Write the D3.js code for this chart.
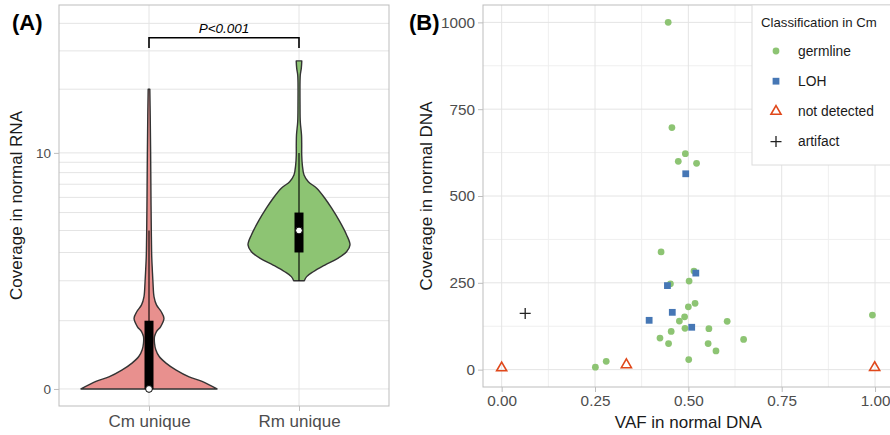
<!DOCTYPE html>
<html>
<head>
<meta charset="utf-8">
<script src="https://cdn.jsdelivr.net/npm/d3@7"></script>
<style>
  body { margin: 0; background: #fff; }
  svg { font-family: "Liberation Sans", Arial, Helvetica, sans-serif; display: block; }
</style>
</head>
<body>
<div id="chart"></div>
<script>

// ---------- Panel A: violin outlines ----------
var groups = ["Cm unique", "Rm unique"];

// coverage value along the violin and relative half-width (density)
var cmCoverage = [0, 0.08, 0.13, 0.21, 0.30, 0.39, 0.49, 0.59, 0.70, 0.79, 0.88, 1.05, 1.19, 1.35, 1.55, 1.93, 2.35, 2.84, 3.5, 4, 6, 10, 15, 20];
var cmDensity  = [1.00, 0.78, 0.59, 0.40, 0.25, 0.15, 0.10, 0.081, 0.081, 0.11, 0.17, 0.22, 0.18, 0.11, 0.074, 0.059, 0.049, 0.040, 0.036, 0.034, 0.029, 0.024, 0.018, 0.012];

var rmCoverage = [2.0, 2.13, 2.29, 2.52, 2.77, 3.03, 3.32, 3.78, 4.47, 5.27, 5.94, 6.68, 7.21, 7.79, 8.73, 9.77, 10.9, 12.2, 14.1, 16.9, 21.7, 23.3, 25.0, 27.0];
var rmDensity  = [0.078, 0.113, 0.21, 0.38, 0.57, 0.70, 0.75, 0.70, 0.60, 0.48, 0.38, 0.26, 0.137, 0.074, 0.049, 0.040, 0.040, 0.037, 0.019, 0.015, 0.015, 0.019, 0.034, 0.041];

// boxplot stats: lower whisker, q1, median, q3, upper whisker
var cmBox = [0, 0, 0, 1, 4];
var rmBox = [2, 3, 4, 5, 10];

var rnaTicks = [0, 10];
var rnaMinorTicks = [1, 2, 3, 4, 5, 6, 7, 8, 9, 20, 30, 40];
var pLabel = "P<0.001";

// ---------- Panel B: scatter points ----------
var germlineVaf = [0.446, 0.456, 0.492, 0.473, 0.522, 0.427, 0.515, 0.452, 0.502, 0.518, 0.500, 0.490, 0.476, 0.604, 0.454, 0.491, 0.555, 0.424, 0.447, 0.553, 0.648, 0.574, 0.501, 0.280, 0.251, 0.993];
var germlineCov = [1000, 697, 622, 600, 594, 339, 284, 247, 255, 191, 181, 152, 140, 139, 110, 119, 118, 91, 75, 75, 87, 54, 29, 24, 7, 157];

var lohVaf = [0.493, 0.520, 0.444, 0.457, 0.395, 0.509];
var lohCov = [564, 278, 242, 165, 142, 122];

var notDetectedVaf = [0.0, 0.334, 0.999];
var notDetectedCov = [5, 14, 6];

var artifactVaf = [0.063];
var artifactCov = [162];

var classes = ["germline", "LOH", "not detected", "artifact"];
var vafTicks = [0, 0.25, 0.5, 0.75, 1];
var vafMinorTicks = [0.125, 0.375, 0.625, 0.875];
var dnaTicks = [0, 250, 500, 750, 1000];
var dnaMinorTicks = [125, 375, 625, 875];

// ---------- drawing ----------
var svgWidth = 890;
var svgHeight = 435;

var gridMajor = "#e4e4e4";
var gridMinor = "#efefef";
var borderCol = "#bdbdbd";
var tickText = "#4d4d4d";
var titleText = "#1a1a1a";

var svg = d3.select("#chart")
  .append("svg")
  .attr("width", svgWidth)
  .attr("height", svgHeight);

// ===== Panel A =====
var pA = { left: 59, right: 389, top: 5, bottom: 406 };

var xA = d3.scalePoint()
  .domain(groups)
  .range([pA.left, pA.right])
  .padding(0.6);

// log10(x + 1) style axis
var yA = d3.scaleSymlog()
  .constant(1)
  .domain([-0.189, 48.4])
  .range([pA.bottom, pA.top]);

var widthA = d3.scaleLinear().domain([0, 1]).range([0, 68]);

var gA = svg.append("g");

// grid
gA.selectAll(".hgrid")
  .data(rnaMinorTicks.concat(rnaTicks))
  .enter()
  .append("line")
  .attr("x1", pA.left).attr("x2", pA.right)
  .attr("y1", d => yA(d)).attr("y2", d => yA(d))
  .attr("stroke", gridMajor)
  .attr("stroke-width", 1);

gA.selectAll(".vgrid")
  .data(groups)
  .enter()
  .append("line")
  .attr("x1", d => xA(d)).attr("x2", d => xA(d))
  .attr("y1", pA.top).attr("y2", pA.bottom)
  .attr("stroke", gridMajor)
  .attr("stroke-width", 1);

var violinArea = d3.area()
  .curve(d3.curveCatmullRom.alpha(0.5))
  .y(d => yA(d.v))
  .x0(d => d.cx - widthA(d.d))
  .x1(d => d.cx + widthA(d.d));

var violins = [
  { name: groups[0], cov: cmCoverage, dens: cmDensity, box: cmBox, fill: "#e8908e" },
  { name: groups[1], cov: rmCoverage, dens: rmDensity, box: rmBox, fill: "#8dc473" }
];

violins.forEach(function(vi) {
  var cx = xA(vi.name);
  var pts = vi.cov.map((v, i) => ({ v: v, d: vi.dens[i], cx: cx }));

  gA.append("path")
    .datum(pts)
    .attr("d", violinArea)
    .attr("fill", vi.fill)
    .attr("stroke", "#333333")
    .attr("stroke-width", 1.4)
    .attr("stroke-linejoin", "round");

  // whisker
  gA.append("line")
    .attr("x1", cx).attr("x2", cx)
    .attr("y1", yA(vi.box[0])).attr("y2", yA(vi.box[4]))
    .attr("stroke", "#000")
    .attr("stroke-width", 1.1);

  // box
  gA.append("rect")
    .attr("x", cx - 4.5)
    .attr("width", 9)
    .attr("y", yA(vi.box[3]))
    .attr("height", yA(vi.box[1]) - yA(vi.box[3]))
    .attr("fill", "#000");

  // median
  gA.append("circle")
    .attr("cx", cx)
    .attr("cy", yA(vi.box[2]))
    .attr("r", 3.4)
    .attr("fill", "#fff")
    .attr("stroke", "#000")
    .attr("stroke-width", 1);
});

// border
gA.append("rect")
  .attr("x", pA.left).attr("y", pA.top)
  .attr("width", pA.right - pA.left).attr("height", pA.bottom - pA.top)
  .attr("fill", "none")
  .attr("stroke", borderCol)
  .attr("stroke-width", 1);

// axes A
var yAxisA = d3.axisLeft(yA).tickValues(rnaTicks).tickSize(5).tickPadding(3).tickFormat(d3.format("d"));
var axA = gA.append("g")
  .attr("transform", `translate(${pA.left}, 0)`)
  .call(yAxisA);
axA.select(".domain").remove();
axA.selectAll(".tick line").attr("stroke", borderCol);
axA.selectAll(".tick text").attr("fill", tickText).attr("font-size", "13.5px");

var xAxisA = d3.axisBottom(xA).tickSize(5).tickPadding(4);
var axAx = gA.append("g")
  .attr("transform", `translate(0, ${pA.bottom})`)
  .call(xAxisA);
axAx.select(".domain").remove();
axAx.selectAll(".tick line").attr("stroke", borderCol);
axAx.selectAll(".tick text").attr("fill", tickText).attr("font-size", "17px");

// significance bracket
var bracketTop = 34.4;
var bracketFoot = 30.9;
gA.append("path")
  .attr("d", `M${xA(groups[0])},${yA(bracketFoot)}V${yA(bracketTop)}H${xA(groups[1])}V${yA(bracketFoot)}`)
  .attr("fill", "none")
  .attr("stroke", "#000")
  .attr("stroke-width", 1.6);

gA.append("text")
  .attr("x", (xA(groups[0]) + xA(groups[1])) / 2)
  .attr("y", yA(bracketTop) - 5)
  .attr("text-anchor", "middle")
  .attr("font-size", "13.5px")
  .attr("font-style", "italic")
  .attr("fill", "#000")
  .text(pLabel);

// titles A
svg.append("text")
  .attr("transform", `translate(22, ${(pA.top + pA.bottom) / 2}) rotate(-90)`)
  .attr("text-anchor", "middle")
  .attr("font-size", "17px")
  .attr("fill", titleText)
  .text("Coverage in normal RNA");

svg.append("text")
  .attr("x", 12).attr("y", 30)
  .attr("font-size", "22px")
  .attr("font-weight", "bold")
  .attr("fill", "#000")
  .text("(A)");

// ===== Panel B =====
var pB = { left: 483, right: 893.7, top: 5, bottom: 387 };

var xB = d3.scaleLinear().domain([-0.05, 1.05]).range([pB.left, pB.right]);
var yB = d3.scaleLinear().domain([-50, 1050]).range([pB.bottom, pB.top]);

var gB = svg.append("g");

gB.selectAll(".vminor")
  .data(vafMinorTicks)
  .enter()
  .append("line")
  .attr("x1", d => xB(d)).attr("x2", d => xB(d))
  .attr("y1", pB.top).attr("y2", pB.bottom)
  .attr("stroke", gridMinor);

gB.selectAll(".hminor")
  .data(dnaMinorTicks)
  .enter()
  .append("line")
  .attr("x1", pB.left).attr("x2", pB.right)
  .attr("y1", d => yB(d)).attr("y2", d => yB(d))
  .attr("stroke", gridMinor);

gB.selectAll(".vmajor")
  .data(vafTicks)
  .enter()
  .append("line")
  .attr("x1", d => xB(d)).attr("x2", d => xB(d))
  .attr("y1", pB.top).attr("y2", pB.bottom)
  .attr("stroke", gridMajor);

gB.selectAll(".hmajor")
  .data(dnaTicks)
  .enter()
  .append("line")
  .attr("x1", pB.left).attr("x2", pB.right)
  .attr("y1", d => yB(d)).attr("y2", d => yB(d))
  .attr("stroke", gridMajor);

gB.append("rect")
  .attr("x", pB.left).attr("y", pB.top)
  .attr("width", pB.right - pB.left).attr("height", pB.bottom - pB.top)
  .attr("fill", "none")
  .attr("stroke", borderCol);

var yAxisB = d3.axisLeft(yB).tickValues(dnaTicks).tickSize(5).tickPadding(3).tickFormat(d3.format("d"));
var axB = gB.append("g").attr("transform", `translate(${pB.left}, 0)`).call(yAxisB);
axB.select(".domain").remove();
axB.selectAll(".tick line").attr("stroke", borderCol);
axB.selectAll(".tick text").attr("fill", tickText).attr("font-size", "15.3px");

var xAxisB = d3.axisBottom(xB).tickValues(vafTicks).tickSize(5).tickPadding(3).tickFormat(d3.format(".2f"));
var axBx = gB.append("g").attr("transform", `translate(0, ${pB.bottom})`).call(xAxisB);
axBx.select(".domain").remove();
axBx.selectAll(".tick line").attr("stroke", borderCol);
axBx.selectAll(".tick text").attr("fill", tickText).attr("font-size", "15.3px");

// symbols
var colGerm = "#8dc473";
var colLoh = "#4677b5";
var colNot = "#e0481b";
var colArt = "#222222";

var circleSym = d3.symbol().type(d3.symbolCircle).size(36);
var squareSym = d3.symbol().type(d3.symbolSquare).size(46);
var triSym = d3.symbol().type(d3.symbolTriangle).size(44);
var plusPath = "M-5.5,0H5.5M0,-5.5V5.5";

gB.selectAll(".germ")
  .data(germlineVaf)
  .enter()
  .append("path")
  .attr("d", circleSym)
  .attr("transform", (d, i) => `translate(${xB(d)}, ${yB(germlineCov[i])})`)
  .attr("fill", colGerm);

gB.selectAll(".loh")
  .data(lohVaf)
  .enter()
  .append("path")
  .attr("d", squareSym)
  .attr("transform", (d, i) => `translate(${xB(d)}, ${yB(lohCov[i])})`)
  .attr("fill", colLoh);

gB.selectAll(".notdet")
  .data(notDetectedVaf)
  .enter()
  .append("path")
  .attr("d", triSym)
  .attr("transform", (d, i) => `translate(${xB(d)}, ${yB(notDetectedCov[i])})`)
  .attr("fill", "none")
  .attr("stroke", colNot)
  .attr("stroke-width", 1.6);

gB.selectAll(".artifact")
  .data(artifactVaf)
  .enter()
  .append("path")
  .attr("d", plusPath)
  .attr("transform", (d, i) => `translate(${xB(d)}, ${yB(artifactCov[i])})`)
  .attr("fill", "none")
  .attr("stroke", colArt)
  .attr("stroke-width", 1.3);

// titles B
svg.append("text")
  .attr("transform", `translate(432, ${(pB.top + pB.bottom) / 2}) rotate(-90)`)
  .attr("text-anchor", "middle")
  .attr("font-size", "17px")
  .attr("fill", titleText)
  .text("Coverage in normal DNA");

svg.append("text")
  .attr("x", xB(0.5)).attr("y", 428)
  .attr("text-anchor", "middle")
  .attr("font-size", "17px")
  .attr("fill", titleText)
  .text("VAF in normal DNA");

svg.append("text")
  .attr("x", 409).attr("y", 30)
  .attr("font-size", "22px")
  .attr("font-weight", "bold")
  .attr("fill", "#000")
  .text("(B)");

// legend
var legend = svg.append("g").attr("transform", "translate(752, 5)");
legend.append("rect")
  .attr("x", 0).attr("y", 0)
  .attr("width", 160).attr("height", 160)
  .attr("fill", "#fff")
  .attr("stroke", "#dcdcdc");

legend.append("text")
  .attr("x", 9).attr("y", 22)
  .attr("font-size", "13.2px")
  .attr("fill", titleText)
  .text("Classification in Cm");

var keyGen = [
  g => g.append("path").attr("d", circleSym).attr("fill", colGerm),
  g => g.append("path").attr("d", squareSym).attr("fill", colLoh),
  g => g.append("path").attr("d", triSym).attr("fill", "none").attr("stroke", colNot).attr("stroke-width", 1.6),
  g => g.append("path").attr("d", plusPath).attr("fill", "none").attr("stroke", colArt).attr("stroke-width", 1.3)
];

classes.forEach(function(c, i) {
  var row = legend.append("g").attr("transform", `translate(24, ${46 + i * 30.2})`);
  keyGen[i](row);
  row.append("text")
    .attr("x", 22).attr("y", 0)
    .attr("dy", "0.35em")
    .attr("font-size", "13.8px")
    .attr("fill", titleText)
    .text(c);
});

</script>
</body>
</html>
